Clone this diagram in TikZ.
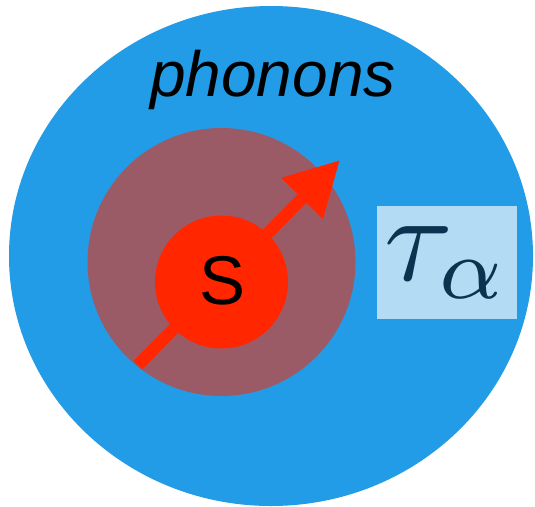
\RequirePackage{fix-cm}
\documentclass[tikz,border=0pt]{standalone}
\usepackage{graphicx}
\usepackage{fontspec}
\setsansfont{Liberation Sans}
\usepackage{tikz}
\usetikzlibrary{shapes.geometric, arrows.meta, positioning}

\definecolor{bathblue}{RGB}{35,156,232}
\definecolor{cloudred}{RGB}{155,91,102}
\definecolor{spinred}{RGB}{255,38,0}
\definecolor{boxblue}{RGB}{179,220,244}
\definecolor{taunavy}{RGB}{11,51,80}

\begin{document}
\begin{tikzpicture}[
    x=1pt, y=-1pt,
    blob/.style={
        fill,
        draw=none,
        inner sep=0pt
    },
    bath/.style={blob, ellipse, fill=bathblue,
        minimum width=524pt, minimum height=500pt},
    cloud/.style={blob, circle, fill=cloudred, minimum size=268pt},
    spin/.style={blob, circle, fill=spinred, minimum size=133pt},
    taubox/.style={fill=boxblue, inner sep=0pt,
        minimum width=140pt, minimum height=113pt,
        text=taunavy},
    >={Triangle[length=54pt,width=55pt]}
]

\useasboundingbox (0,0) rectangle (535,506);

\node[bath] (bath) at (271,256) {};
\node[cloud] (cloud) at (221.5,262) {};

\coordinate (tail) at (138,365);
\coordinate (head) at (340,160);
\draw[->, spinred, line width=12pt] (tail) -- (head);

\node[spin] (spin) at (221.5,282) {};
\node (s) at (223,281) {\sffamily\fontsize{69}{69}\selectfont S};

\node[font=\sffamily\itshape\fontsize{64}{64}\selectfont] (phonons)
    at (273,80) {phonons};

\node[taubox] (tau) at (447,262.5) {\scalebox{12.5}{$\tau_\alpha$}};

\end{tikzpicture}
\end{document}
